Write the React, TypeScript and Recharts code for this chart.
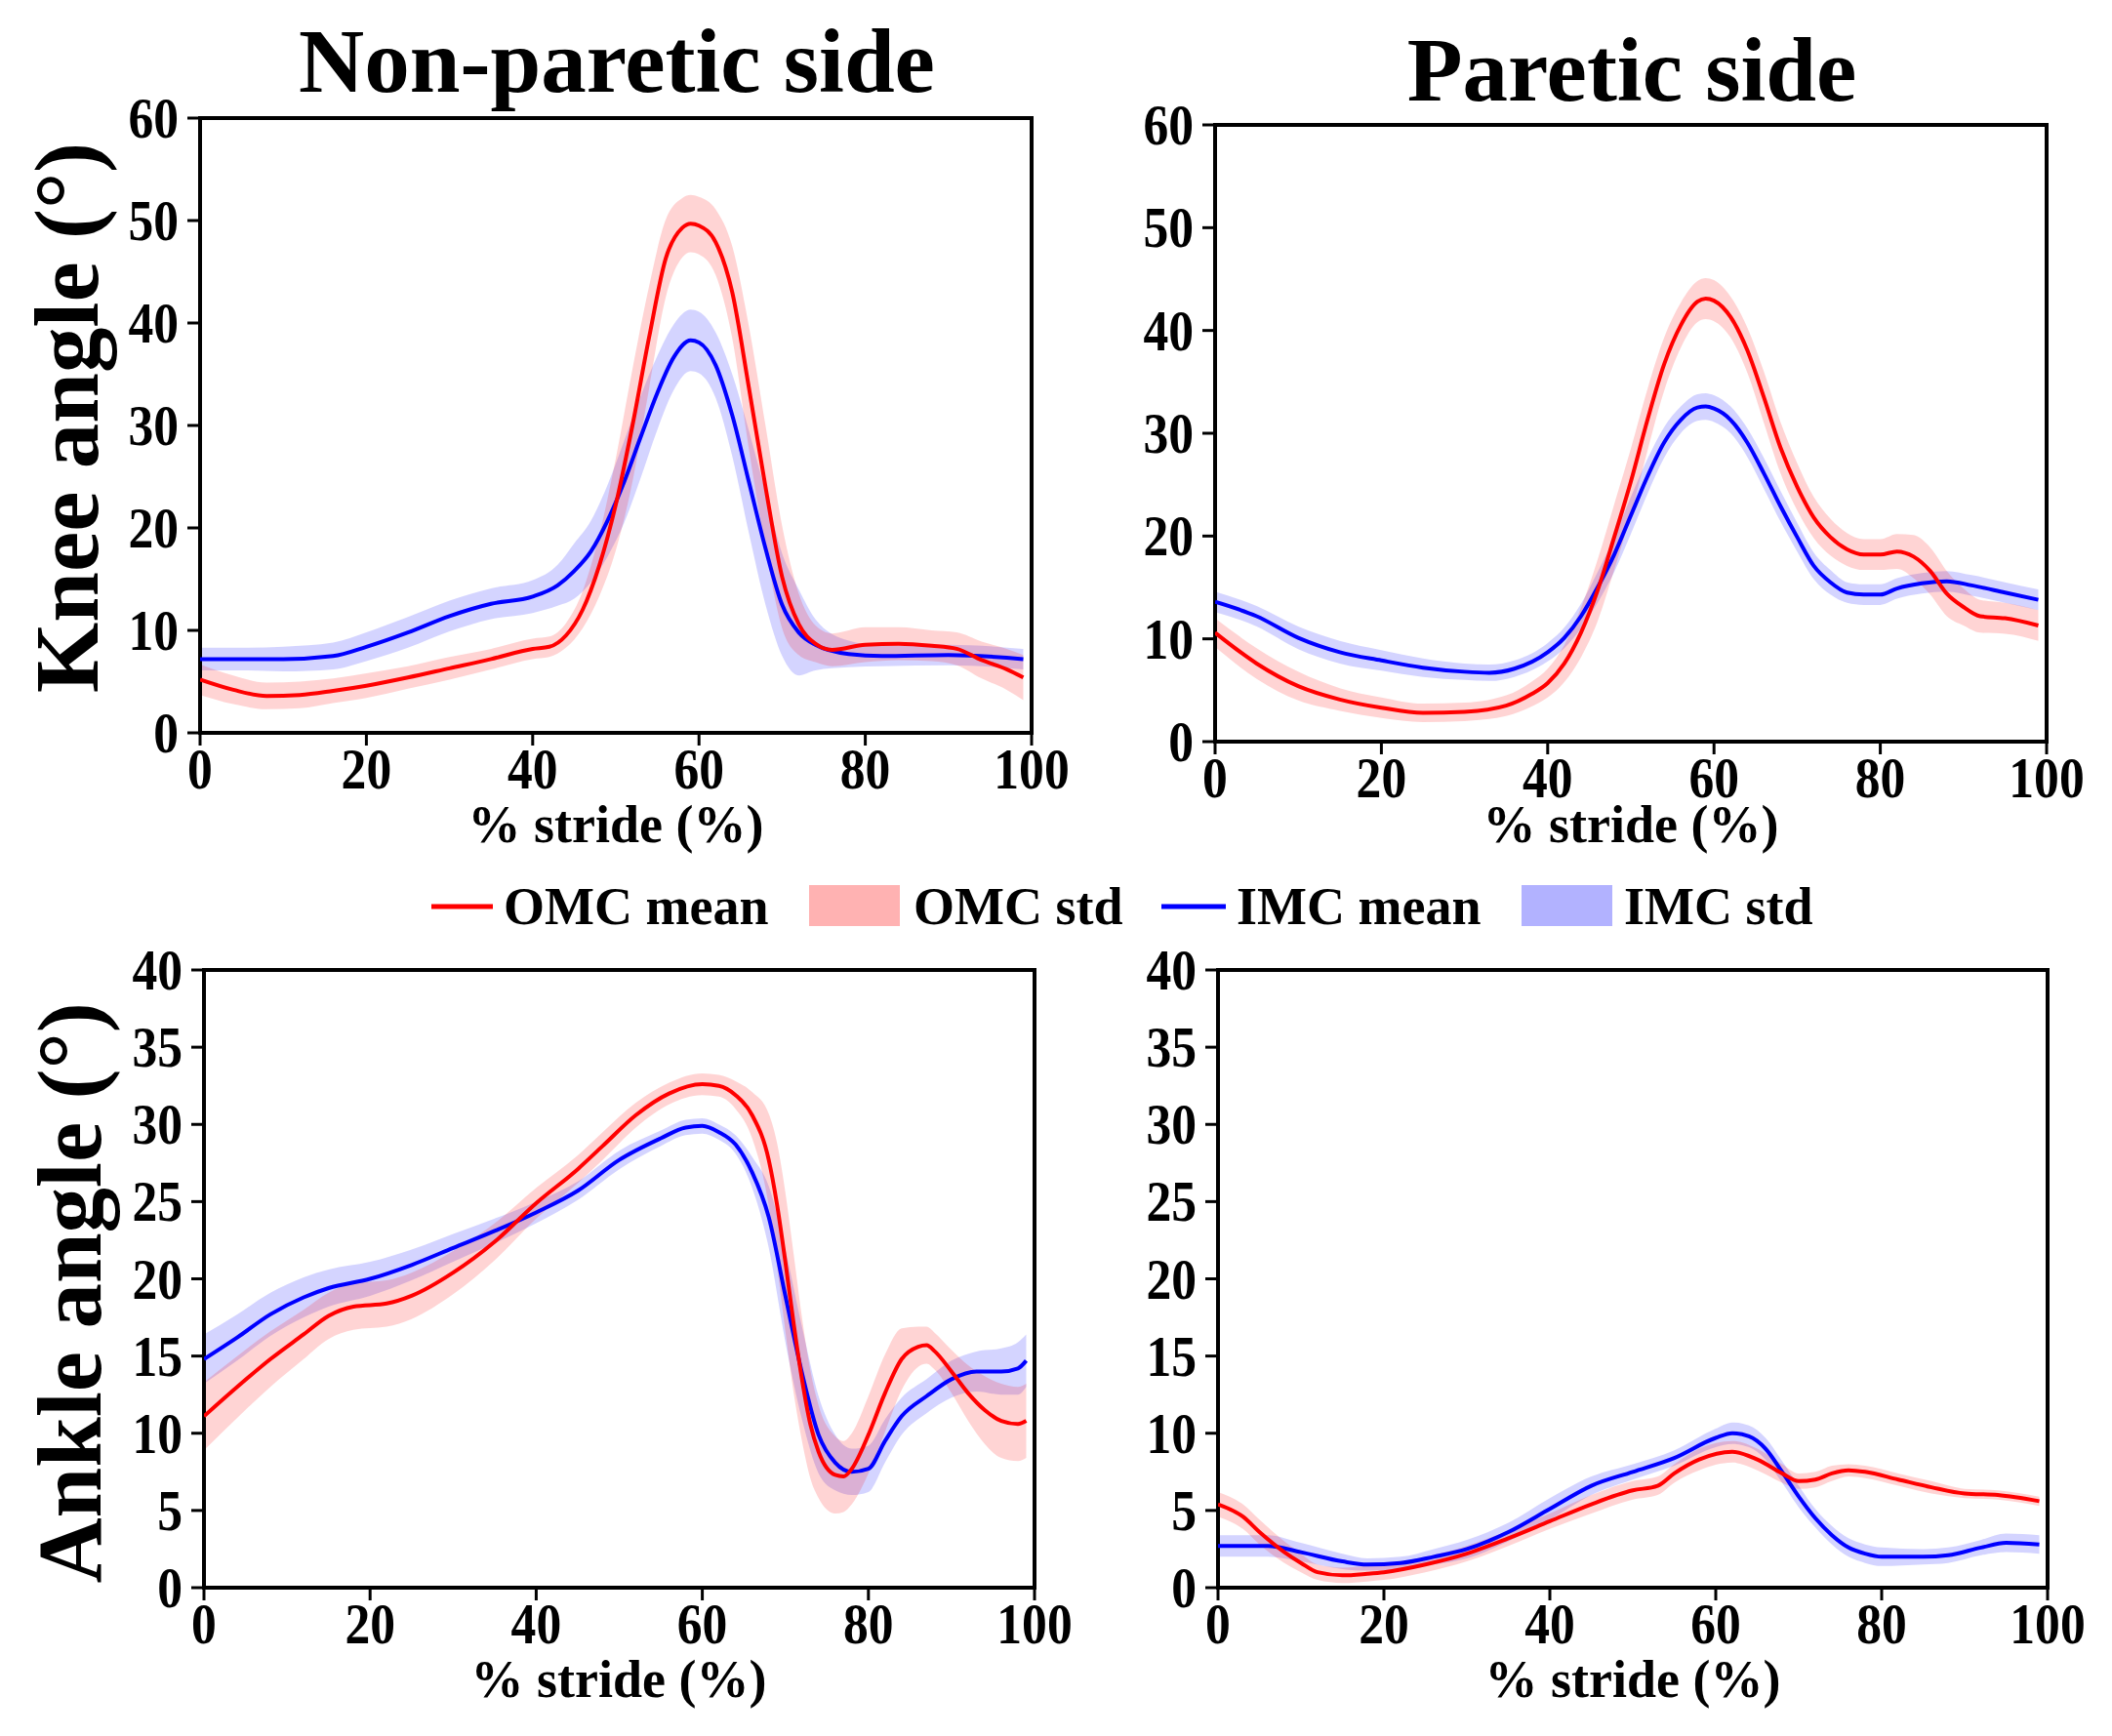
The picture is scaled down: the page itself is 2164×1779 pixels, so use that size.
import React from "react";
import { ComposedChart, Area, Line, XAxis, YAxis, ReferenceArea } from "recharts";

const FONT = "'Liberation Serif', 'Times New Roman', serif";

// ---------- Knee, non-paretic ----------
const kneeNonOmcX = [0, 4, 8, 12, 16, 20, 25, 30, 35, 40, 42, 44, 46, 48, 50, 52, 54, 56, 58, 59, 60, 62, 64, 66, 68, 70, 72, 74, 76, 80, 84, 88, 91, 94, 97, 99];
const kneeNonOmcMean = [5.2, 4.2, 3.6, 3.7, 4.1, 4.6, 5.4, 6.3, 7.2, 8.2, 8.4, 9.5, 12.0, 16.3, 22.3, 30.0, 38.6, 46.3, 49.3, 49.7, 49.5, 47.9, 43.0, 33.7, 24.0, 15.2, 10.6, 8.7, 8.1, 8.6, 8.7, 8.5, 8.2, 7.1, 6.2, 5.4];
const kneeNonOmcStd = [1.5, 1.4, 1.3, 1.3, 1.2, 1.2, 1.1, 1.1, 1.0, 1.0, 1.0, 1.2, 1.8, 3.0, 4.5, 5.5, 5.0, 3.8, 2.9, 2.8, 2.8, 3.2, 4.5, 6.0, 6.0, 5.0, 3.0, 1.8, 1.6, 1.7, 1.6, 1.5, 1.6, 1.8, 2.0, 2.2];
const kneeNonImcX = [0, 5, 10, 16, 20, 25, 30, 35, 40, 43, 45, 47, 49, 51, 53, 55, 57, 59, 60, 62, 64, 66, 68, 70, 72, 74, 78, 82, 90, 99];
const kneeNonImcMean = [7.2, 7.2, 7.2, 7.5, 8.4, 9.8, 11.4, 12.6, 13.3, 14.4, 15.8, 17.7, 20.7, 24.5, 28.9, 33.2, 36.7, 38.3, 38.1, 35.9, 31.0, 24.5, 18.0, 12.5, 9.8, 8.6, 7.7, 7.5, 7.6, 7.2];
const kneeNonImcStd = [1.1, 1.1, 1.2, 1.3, 1.4, 1.5, 1.5, 1.5, 1.6, 2.0, 2.7, 3.0, 3.5, 4.0, 4.0, 3.6, 3.2, 3.0, 3.0, 3.2, 4.0, 5.0, 5.5, 5.0, 4.2, 2.5, 1.3, 1.0, 1.0, 1.0];

// ---------- Knee, paretic ----------
const kneeParOmcX = [0, 5, 10, 15, 20, 25, 30, 35, 38, 40, 42, 44, 46, 48, 50, 52, 54, 56, 58, 59, 60, 62, 64, 66, 68, 70, 72, 74, 76, 78, 80, 82, 84, 86, 88, 90, 92, 95, 99];
const kneeParOmcMean = [10.6, 7.6, 5.4, 4.1, 3.3, 2.8, 2.9, 3.5, 4.6, 5.7, 7.6, 10.6, 14.7, 19.9, 25.3, 31.3, 36.7, 40.5, 42.8, 43.1, 42.9, 41.3, 38.1, 33.5, 28.6, 24.8, 21.8, 19.9, 18.7, 18.2, 18.2, 18.5, 18.0, 16.6, 14.4, 13.1, 12.2, 12.0, 11.3];
const kneeParOmcStd = [1.4, 1.5, 1.4, 1.1, 1.0, 0.9, 0.9, 1.0, 1.2, 1.4, 1.8, 2.4, 3.0, 3.2, 3.2, 3.0, 2.6, 2.2, 2.0, 2.0, 2.0, 2.0, 2.2, 2.5, 2.5, 2.3, 2.0, 1.8, 1.6, 1.5, 1.5, 1.7, 2.1, 2.3, 2.2, 1.8, 1.6, 1.5, 1.5];
const kneeParImcX = [0, 5, 10, 15, 20, 25, 30, 33, 36, 40, 42, 44, 46, 48, 50, 52, 54, 56, 58, 59, 60, 62, 64, 66, 68, 70, 72, 74, 76, 78, 80, 82, 85, 88, 91, 95, 99];
const kneeParImcMean = [13.6, 12.2, 10.1, 8.7, 7.9, 7.2, 6.8, 6.7, 7.1, 8.7, 10.1, 12.2, 15.0, 18.2, 22.0, 25.8, 29.1, 31.3, 32.5, 32.6, 32.4, 31.3, 29.1, 26.1, 22.9, 19.9, 17.1, 15.5, 14.5, 14.3, 14.3, 14.9, 15.4, 15.6, 15.2, 14.5, 13.8];
const kneeParImcStd = [1.0, 1.0, 1.1, 1.1, 1.0, 0.9, 0.8, 0.8, 0.8, 0.9, 1.0, 1.2, 1.5, 1.7, 1.8, 1.7, 1.5, 1.3, 1.3, 1.3, 1.3, 1.3, 1.4, 1.5, 1.5, 1.4, 1.3, 1.2, 1.0, 1.0, 1.0, 1.0, 1.0, 1.0, 1.0, 1.0, 1.0];

// ---------- Ankle, non-paretic ----------
const ankleNonOmcX = [0, 4, 8, 12, 15, 18, 22, 25, 30, 35, 40, 45, 48, 52, 56, 60, 62, 64, 66, 68, 69, 70, 71, 72, 73, 74, 76, 77, 78, 80, 82, 84, 86, 87, 88, 90, 92, 94, 96, 98, 99];
const ankleNonOmcMean = [11.1, 13.0, 14.8, 16.4, 17.6, 18.2, 18.4, 18.9, 20.4, 22.4, 24.9, 27.1, 28.6, 30.6, 32.0, 32.6, 32.5, 31.9, 30.6, 27.7, 24.8, 21.1, 17.1, 13.5, 10.6, 8.8, 7.3, 7.2, 7.7, 9.9, 12.6, 14.8, 15.6, 15.7, 15.3, 14.0, 12.6, 11.5, 10.8, 10.6, 10.8];
const ankleNonOmcStd = [2.2, 2.0, 1.8, 1.6, 1.5, 1.5, 1.5, 1.5, 1.4, 1.2, 1.0, 0.9, 0.9, 0.8, 0.7, 0.7, 0.7, 0.9, 1.5, 3.0, 4.0, 4.5, 4.5, 4.0, 3.5, 3.0, 2.5, 2.3, 2.3, 2.5, 2.5, 2.0, 1.3, 1.2, 1.2, 1.4, 1.8, 2.2, 2.4, 2.4, 2.4];
const ankleNonImcX = [0, 4, 8, 12, 15, 20, 25, 30, 35, 40, 45, 50, 55, 58, 60, 62, 64, 66, 68, 70, 72, 74, 76, 78, 80, 82, 84, 87, 90, 93, 96, 98, 99];
const ankleNonImcMean = [14.8, 16.2, 17.7, 18.8, 19.4, 20.0, 20.9, 22.0, 23.1, 24.3, 25.7, 27.7, 29.1, 29.8, 29.9, 29.5, 28.7, 26.9, 24.0, 18.9, 13.9, 9.9, 8.1, 7.5, 7.7, 9.5, 11.1, 12.4, 13.5, 14.0, 14.0, 14.2, 14.7];
const ankleNonImcStd = [1.6, 1.5, 1.4, 1.3, 1.2, 1.1, 1.0, 0.9, 0.8, 0.7, 0.6, 0.6, 0.5, 0.5, 0.5, 0.5, 0.6, 1.0, 2.0, 3.0, 3.0, 2.5, 1.8, 1.5, 1.5, 1.4, 1.2, 1.1, 1.2, 1.3, 1.5, 1.7, 1.7];

// ---------- Ankle, paretic ----------
const anklePusOmcX = [0, 3, 5, 8, 10, 12, 15, 18, 20, 25, 30, 35, 40, 45, 50, 53, 55, 58, 62, 65, 68, 70, 72, 74, 76, 78, 82, 86, 90, 94, 99];
const anklePusOmcMean = [5.4, 4.6, 3.6, 2.3, 1.6, 1.0, 0.8, 0.9, 1.0, 1.5, 2.2, 3.2, 4.3, 5.4, 6.3, 6.6, 7.4, 8.3, 8.8, 8.3, 7.4, 6.9, 7.0, 7.4, 7.6, 7.5, 7.0, 6.5, 6.1, 6.0, 5.6];
const anklePusOmcStd = [0.8, 0.8, 0.8, 0.7, 0.6, 0.5, 0.5, 0.5, 0.5, 0.5, 0.5, 0.5, 0.5, 0.6, 0.6, 0.6, 0.6, 0.7, 0.7, 0.7, 0.6, 0.5, 0.5, 0.5, 0.4, 0.4, 0.4, 0.4, 0.3, 0.3, 0.3];
const anklePusImcX = [0, 6, 10, 15, 18, 22, 26, 30, 35, 40, 45, 50, 55, 60, 62, 64, 66, 68, 70, 72, 74, 76, 78, 80, 85, 88, 92, 95, 99];
const anklePusImcMean = [2.7, 2.7, 2.3, 1.7, 1.5, 1.6, 2.0, 2.5, 3.6, 5.1, 6.6, 7.5, 8.4, 9.7, 10.0, 9.8, 9.0, 7.5, 5.9, 4.5, 3.4, 2.6, 2.2, 2.0, 2.0, 2.1, 2.6, 2.9, 2.8];
const anklePusImcStd = [0.7, 0.7, 0.6, 0.5, 0.4, 0.4, 0.5, 0.6, 0.6, 0.7, 0.6, 0.5, 0.5, 0.6, 0.7, 0.7, 0.7, 0.7, 0.7, 0.6, 0.6, 0.6, 0.6, 0.6, 0.5, 0.5, 0.5, 0.6, 0.6];

// ---------- ticks / labels ----------
const xTicks = [0, 20, 40, 60, 80, 100];
const kneeTicks = [0, 10, 20, 30, 40, 50, 60];
const ankleTicks = [0, 5, 10, 15, 20, 25, 30, 35, 40];
const titles = ["Non-paretic side", "Paretic side"];
const yLabels = ["Knee angle (°)", "Ankle angle (°)"];
const xLabel = "% stride (%)";
const legendLabels = ["OMC mean", "OMC std", "IMC mean", "IMC std"];

const RED = "#ff0000";
const BLUE = "#0000ff";

function rows(x: number[], mean: number[], std: number[]) {
  return x.map((v, i) => ({ x: v, m: mean[i], band: [mean[i] - std[i], mean[i] + std[i]] }));
}

const ML = 120, MT = 40, MR = 60, MB = 100;
const TICK_FS = 60;
const SX = 0.86;

function XTick(p: any) {
  const { x, y, payload } = p;
  return (
    <g transform={`translate(${x},${y})`}>
      <text transform={`scale(${SX},1)`} x={0} y={41} textAnchor="middle"
        fontFamily={FONT} fontWeight={700} fontSize={TICK_FS} fill="#000">{payload.value}</text>
    </g>
  );
}

function YTick(p: any) {
  const { x, y, payload } = p;
  return (
    <g transform={`translate(${x},${y})`}>
      <text transform={`scale(${SX},1)`} x={0} y={20} textAnchor="end"
        fontFamily={FONT} fontWeight={700} fontSize={TICK_FS} fill="#000">{payload.value}</text>
    </g>
  );
}

function Panel(props: {
  L: number; T: number; R: number; B: number; yMax: number; yTicks: number[];
  omc: any[]; imc: any[];
}) {
  const { L, T, R, B, yMax, yTicks, omc, imc } = props;
  const w = R - L + ML + MR;
  const h = B - T + MT + MB;
  return (
    <div style={{ position: "absolute", left: L - ML, top: T - MT, width: w, height: h }}>
      <ComposedChart width={w} height={h} margin={{ top: MT, right: MR, bottom: 0, left: 0 }}>
        <XAxis
          dataKey="x" type="number" domain={[0, 100]} ticks={xTicks} height={MB}
          axisLine={false} tickLine={{ stroke: "#000", strokeWidth: 3 }} tickSize={13} tickMargin={3}
          tick={<XTick />} interval={0} allowDataOverflow
        />
        <YAxis
          type="number" domain={[0, yMax]} ticks={yTicks} width={ML}
          axisLine={false} tickLine={{ stroke: "#000", strokeWidth: 3 }} tickSize={13} tickMargin={9}
          tick={<YTick />} interval={0} allowDataOverflow
        />
        <Area data={imc} dataKey="band" type="monotone" stroke="none" fill={BLUE} fillOpacity={0.17} isAnimationActive={false} />
        <Line data={imc} dataKey="m" type="monotone" stroke={BLUE} strokeWidth={4} dot={false} activeDot={false} isAnimationActive={false} />
        <Area data={omc} dataKey="band" type="monotone" stroke="none" fill={RED} fillOpacity={0.17} isAnimationActive={false} />
        <Line data={omc} dataKey="m" type="monotone" stroke={RED} strokeWidth={4} dot={false} activeDot={false} isAnimationActive={false} />
        <ReferenceArea x1={0} x2={100} y1={0} y2={yMax} fill="none" stroke="#000" strokeWidth={4} ifOverflow="visible" />
      </ComposedChart>
    </div>
  );
}

const txt = { fontFamily: FONT, fontWeight: 700, fill: "#000" } as const;

export default function App() {
  return (
    <div style={{ position: "absolute", left: 0, top: 0, width: 2164, height: 1779, background: "#fff", overflow: "hidden" }}>
      <Panel L={205} T={121} R={1057} B={751} yMax={60} yTicks={kneeTicks}
        omc={rows(kneeNonOmcX, kneeNonOmcMean, kneeNonOmcStd)} imc={rows(kneeNonImcX, kneeNonImcMean, kneeNonImcStd)} />
      <Panel L={1245} T={128} R={2097} B={760} yMax={60} yTicks={kneeTicks}
        omc={rows(kneeParOmcX, kneeParOmcMean, kneeParOmcStd)} imc={rows(kneeParImcX, kneeParImcMean, kneeParImcStd)} />
      <Panel L={209} T={994} R={1060} B={1627} yMax={40} yTicks={ankleTicks}
        omc={rows(ankleNonOmcX, ankleNonOmcMean, ankleNonOmcStd)} imc={rows(ankleNonImcX, ankleNonImcMean, ankleNonImcStd)} />
      <Panel L={1248} T={994} R={2098} B={1627} yMax={40} yTicks={ankleTicks}
        omc={rows(anklePusOmcX, anklePusOmcMean, anklePusOmcStd)} imc={rows(anklePusImcX, anklePusImcMean, anklePusImcStd)} />
      <svg width={2164} height={1779} style={{ position: "absolute", left: 0, top: 0, pointerEvents: "none" }}>
        <text x={632} y={94} textAnchor="middle" fontSize={93} {...txt}>{titles[0]}</text>
        <text x={1672} y={103} textAnchor="middle" fontSize={93} {...txt}>{titles[1]}</text>
        <text transform="translate(100,428) rotate(-90)" textAnchor="middle" fontSize={93} {...txt}>{yLabels[0]}</text>
        <text transform="translate(103,1325) rotate(-90)" textAnchor="middle" fontSize={93} {...txt}>{yLabels[1]}</text>
        <text x={631} y={863} textAnchor="middle" fontSize={54} {...txt}>{xLabel}</text>
        <text x={1671} y={863} textAnchor="middle" fontSize={54} {...txt}>{xLabel}</text>
        <text x={634} y={1739} textAnchor="middle" fontSize={54} {...txt}>{xLabel}</text>
        <text x={1673} y={1739} textAnchor="middle" fontSize={54} {...txt}>{xLabel}</text>
        {/* legend */}
        <line x1={442} x2={505} y1={929} y2={929} stroke={RED} strokeWidth={5} />
        <text x={516} y={947} fontSize={54} {...txt}>{legendLabels[0]}</text>
        <rect x={829} y={907} width={93} height={42} fill={RED} fillOpacity={0.3} />
        <text x={936} y={947} fontSize={54} {...txt}>{legendLabels[1]}</text>
        <line x1={1190} x2={1256} y1={929} y2={929} stroke={BLUE} strokeWidth={5} />
        <text x={1267} y={947} fontSize={54} {...txt}>{legendLabels[2]}</text>
        <rect x={1559} y={907} width={93} height={42} fill={BLUE} fillOpacity={0.3} />
        <text x={1664} y={947} fontSize={54} {...txt}>{legendLabels[3]}</text>
      </svg>
    </div>
  );
}
